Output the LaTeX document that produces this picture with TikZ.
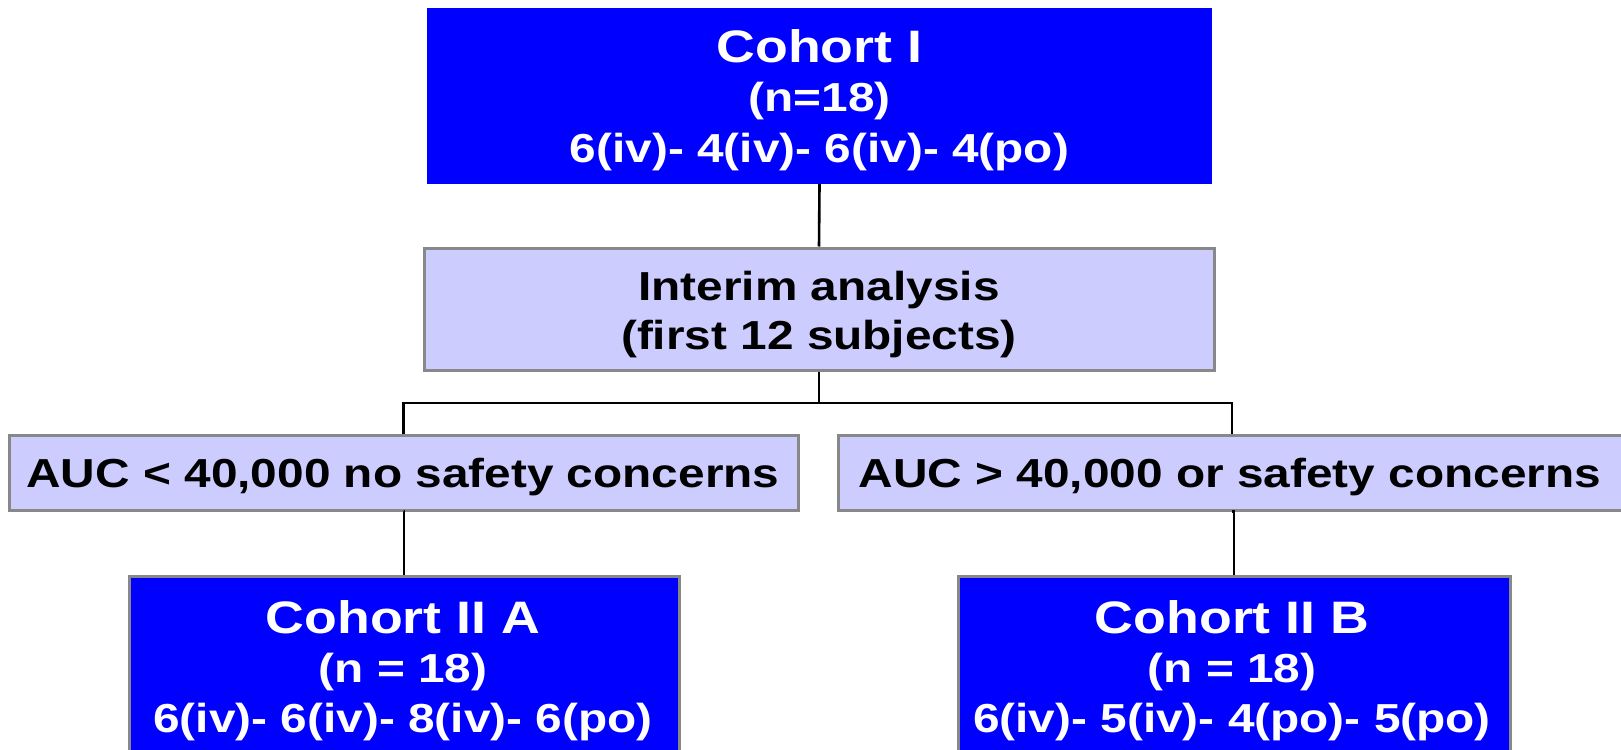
\documentclass[tikz,border=0pt]{standalone}
\usepackage{fontspec}
\newfontfamily\boxfont{Liberation Sans}[FakeStretch=1.18]
\definecolor{cohortblue}{HTML}{0000FF}
\definecolor{stagefill}{HTML}{CCCCFF}
\definecolor{edgegray}{HTML}{888888}
\begin{document}
\begin{tikzpicture}[x=1pt,y=-1pt,
  box/.style={rectangle, inner sep=0pt, anchor=center},
  cohortbox/.style={box, fill=cohortblue},
  stagebox/.style={box, fill=stagefill, draw=edgegray, line width=3pt},
  bigtxt/.style={anchor=base, inner sep=0pt, text=white,
    font=\boxfont\bfseries\fontsize{45.5}{54}\selectfont},
  smalltxt/.style={anchor=base, inner sep=0pt, text=white,
    font=\boxfont\bfseries\fontsize{40.5}{48}\selectfont},
  darktxt/.style={anchor=base, inner sep=0pt, text=black,
    font=\boxfont\bfseries\fontsize{40.5}{48}\selectfont},
  link/.style={draw=black, line width=2.6pt}]
\clip (0,0) rectangle (1621,749);
\fill[white] (0,0) rectangle (1621,749);

% boxes
\node[cohortbox, minimum width=785pt, minimum height=176pt] (c1) at (819.5,96) {};
\node[stagebox, minimum width=790pt, minimum height=122pt] (ia) at (819,309) {};
\node[stagebox, minimum width=789pt, minimum height=75pt] (la) at (403.5,472.5) {};
\node[stagebox, minimum width=788pt, minimum height=75pt] (ra) at (1232,472.5) {};
\node[cohortbox, draw=edgegray, line width=3pt, minimum width=550pt, minimum height=194pt] (c2a) at (404,673) {};
\node[cohortbox, draw=edgegray, line width=3pt, minimum width=552pt, minimum height=194pt] (c2b) at (1234,673) {};

% texts
\node[bigtxt] (c1t1) at (819.5,63) {Cohort I};
\node[smalltxt] (c1t2) at (819.5,112) {(n=18)};
\node[smalltxt] (c1t3) at (819.5,162) {6(iv)- 4(iv)- 6(iv)- 4(po)};

\node[darktxt] (iat1) at (819,300) {Interim analysis};
\node[darktxt] (iat2) at (819,349) {(first 12 subjects)};

\node[darktxt] (lat) at (403,487) {AUC < 40,000 no safety concerns};
\node[darktxt] (rat) at (1230,487) {AUC > 40,000 or safety concerns};

\node[bigtxt] (c2at1) at (403,633) {Cohort II A};
\node[smalltxt] (c2at2) at (403,682) {(n = 18)};
\node[smalltxt] (c2at3) at (403,732) {6(iv)- 6(iv)- 8(iv)- 6(po)};

\node[bigtxt] (c2bt1) at (1232,633) {Cohort II B};
\node[smalltxt] (c2bt2) at (1232,682) {(n = 18)};
\node[smalltxt] (c2bt3) at (1232,732) {6(iv)- 5(iv)- 4(po)- 5(po)};

% connectors
\coordinate (split) at (819,403);
\draw[link] (c1.south) -- (ia.north);
\draw[link] (ia.south) -- (split);
\draw[link] (la.north) -- (la.north |- split) -- (ra.north |- split) -- (ra.north);
\draw[link] (la.south) -- (la.south -| c2a.north) -- (c2a.north);
\draw[link] (ra.south) -- (ra.south -| c2b.north) -- (c2b.north);
\end{tikzpicture}
\end{document}
